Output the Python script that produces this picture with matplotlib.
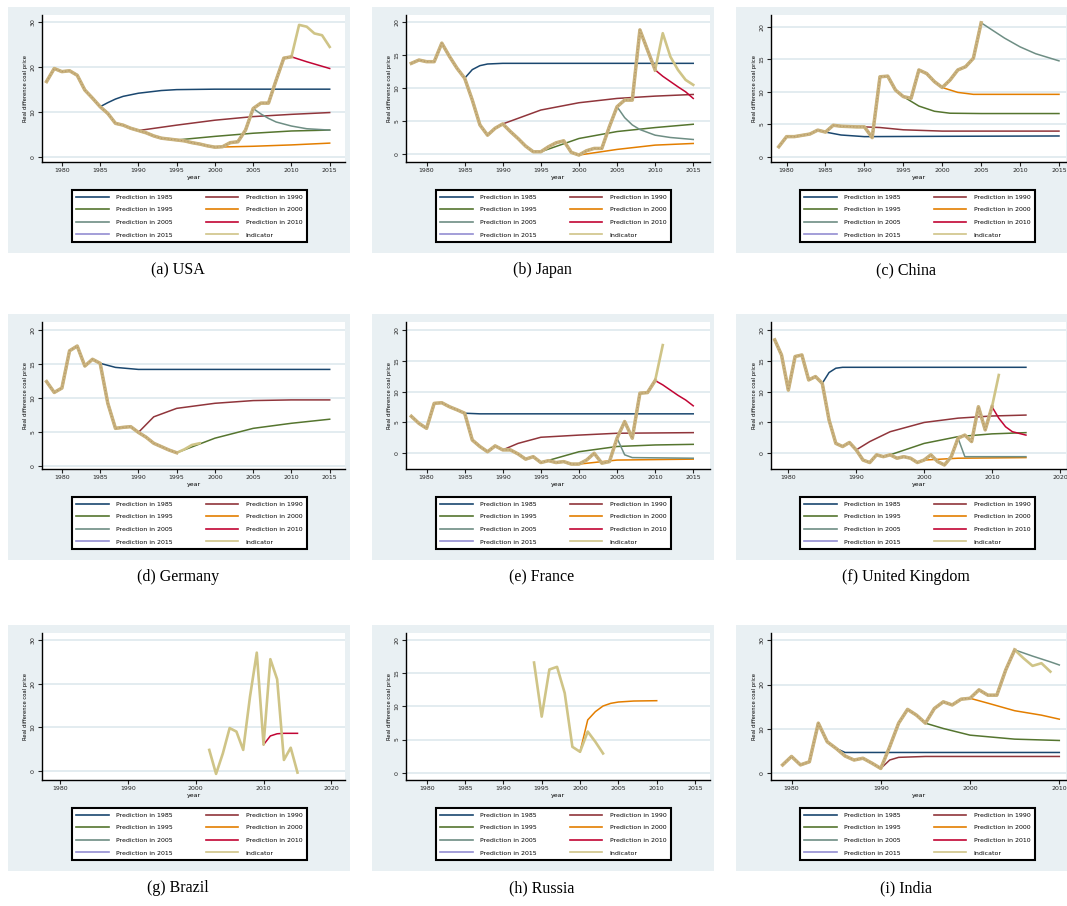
import matplotlib
matplotlib.use("Agg")
import matplotlib.pyplot as plt
from matplotlib.lines import Line2D
from matplotlib.patches import Rectangle
import numpy as np

W, H = 1067, 906

# ---- data (y in axis-tick units) ----
usa_years = list(range(1978, 2016))
usa_ind = [1.67, 1.96, 1.89, 1.91, 1.81, 1.48, 1.30, 1.11, 0.96, 0.74, 0.70, 0.63,
           0.58, 0.53, 0.46, 0.41, 0.39, 0.37, 0.35, 0.31, 0.28, 0.24, 0.21, 0.22,
           0.31, 0.33, 0.59, 1.07, 1.19, 1.19, 1.70, 2.19, 2.22, 2.93, 2.89, 2.74,
           2.70, 2.44]
usa_pred = {
    1985: ([1985, 1986, 1987, 1988, 1990, 1993, 1995, 2000, 2015],
           [1.11, 1.20, 1.28, 1.34, 1.41, 1.47, 1.49, 1.50, 1.50]),
    1990: ([1990, 1995, 2000, 2005, 2010, 2015], [0.58, 0.70, 0.81, 0.89, 0.94, 0.98]),
    1995: ([1995, 2000, 2005, 2010, 2015], [0.37, 0.45, 0.52, 0.57, 0.59]),
    2000: ([2000, 2005, 2010, 2015], [0.21, 0.23, 0.26, 0.30]),
    2005: ([2005, 2006, 2007, 2008, 2010, 2012, 2015],
           [1.07, 0.95, 0.85, 0.77, 0.68, 0.62, 0.59]),
    2010: ([2010, 2012, 2015], [2.22, 2.11, 1.96]),
}

japan_years = list(range(1978, 2016))
japan_ind = [2.74, 2.84, 2.79, 2.79, 3.35, 2.95, 2.59, 2.29, 1.63, 0.88, 0.57, 0.78,
             0.91, 0.68, 0.47, 0.24, 0.07, 0.07, 0.22, 0.34, 0.40, 0.05, -0.03, 0.10,
             0.17, 0.17, 0.83, 1.43, 1.63, 1.63, 3.75, 3.14, 2.54, 3.65, 2.94, 2.54,
             2.24, 2.09]
japan_pred = {
    1985: ([1985, 1986, 1987, 1988, 1990, 2015], [2.29, 2.55, 2.67, 2.72, 2.74, 2.74]),
    1990: ([1990, 1995, 2000, 2005, 2010, 2015], [0.91, 1.33, 1.55, 1.68, 1.75, 1.80]),
    1995: ([1995, 2000, 2005, 2010, 2015], [0.07, 0.47, 0.68, 0.80, 0.90]),
    2000: ([2000, 2005, 2010, 2015], [-0.03, 0.14, 0.27, 0.32]),
    2005: ([2005, 2006, 2007, 2008, 2010, 2012, 2015],
           [1.43, 1.10, 0.88, 0.74, 0.57, 0.50, 0.44]),
    2010: ([2010, 2011, 2012, 2013, 2014, 2015], [2.54, 2.35, 2.19, 2.03, 1.88, 1.68]),
}

china_years = list(range(1979, 2006))
china_ind = [0.31, 0.62, 0.62, 0.66, 0.70, 0.82, 0.76, 0.97, 0.94, 0.93, 0.92, 0.92,
             0.59, 2.46, 2.48, 2.05, 1.85, 1.80, 2.67, 2.56, 2.31, 2.13, 2.36, 2.67,
             2.77, 3.03, 4.12]
china_pred = {
    1985: ([1985, 1987, 1990, 2000, 2015], [0.76, 0.67, 0.62, 0.63, 0.64]),
    1990: ([1990, 1992, 1995, 2000, 2015], [0.92, 0.90, 0.83, 0.79, 0.79]),
    1995: ([1995, 1997, 1999, 2001, 2005, 2015], [1.85, 1.56, 1.40, 1.34, 1.33, 1.33]),
    2000: ([2000, 2002, 2004, 2015], [2.13, 1.98, 1.92, 1.92]),
    2005: ([2005, 2008, 2010, 2012, 2015], [4.12, 3.65, 3.38, 3.17, 2.95]),
}

germany_years = list(range(1978, 1999))
germany_ind = [2.48, 2.16, 2.29, 3.39, 3.53, 2.94, 3.14, 3.02, 1.84, 1.10, 1.13, 1.15,
               0.98, 0.84, 0.66, 0.56, 0.46, 0.38, 0.48, 0.61, 0.66]
germany_pred = {
    1985: ([1985, 1987, 1990, 2015], [3.02, 2.90, 2.84, 2.84]),
    1990: ([1990, 1992, 1995, 2000, 2005, 2010, 2015],
           [0.98, 1.44, 1.69, 1.84, 1.92, 1.94, 1.94]),
    1995: ([1995, 2000, 2005, 2010, 2015], [0.38, 0.81, 1.10, 1.25, 1.37]),
}

france_years = list(range(1978, 2012))
france_ind = [1.20, 0.97, 0.81, 1.62, 1.64, 1.51, 1.41, 1.30, 0.43, 0.22, 0.05, 0.24,
              0.11, 0.11, -0.02, -0.19, -0.11, -0.30, -0.24, -0.30, -0.27, -0.35,
              -0.35, -0.22, 0.00, -0.32, -0.27, 0.49, 1.03, 0.49, 1.95, 1.97, 2.36,
              3.51]
france_pred = {
    1985: ([1985, 1987, 2015], [1.30, 1.28, 1.28]),
    1990: ([1990, 1992, 1995, 2000, 2005, 2015], [0.11, 0.32, 0.52, 0.59, 0.65, 0.67]),
    1995: ([1995, 2000, 2005, 2010, 2015], [-0.30, 0.05, 0.22, 0.27, 0.29]),
    2000: ([2000, 2005, 2015], [-0.35, -0.22, -0.19]),
    2005: ([2005, 2006, 2007, 2015], [0.49, -0.05, -0.14, -0.16]),
    2010: ([2010, 2011, 2012, 2013, 2014, 2015], [2.36, 2.22, 2.05, 1.88, 1.73, 1.54]),
}

uk_years = list(range(1978, 2012))
uk_ind = [3.68, 3.19, 2.05, 3.14, 3.19, 2.38, 2.49, 2.27, 1.08, 0.32, 0.22, 0.35,
          0.11, -0.22, -0.30, -0.05, -0.11, -0.05, -0.16, -0.11, -0.16, -0.30, -0.22,
          -0.05, -0.27, -0.38, -0.11, 0.49, 0.59, 0.38, 1.51, 0.76, 1.51, 2.54]
uk_pred = {
    1985: ([1985, 1986, 1987, 1988, 2015], [2.27, 2.62, 2.76, 2.79, 2.79]),
    1990: ([1990, 1992, 1995, 2000, 2005, 2010, 2015],
           [0.11, 0.38, 0.70, 1.00, 1.14, 1.21, 1.24]),
    1995: ([1995, 2000, 2005, 2010, 2015], [-0.05, 0.32, 0.54, 0.63, 0.67]),
    2000: ([2000, 2005, 2015], [-0.22, -0.16, -0.14]),
    2005: ([2005, 2006, 2015], [0.49, -0.11, -0.11]),
    2010: ([2010, 2011, 2012, 2013, 2015], [1.51, 1.14, 0.86, 0.70, 0.59]),
}

brazil_years = list(range(2002, 2016))
brazil_ind = [0.48, -0.07, 0.40, 0.98, 0.90, 0.48, 1.70, 2.71, 0.60, 2.56, 2.10,
              0.25, 0.53, -0.04]
brazil_pred = {
    2010: ([2010, 2011, 2012, 2013, 2015], [0.60, 0.80, 0.85, 0.86, 0.86]),
}

russia_years = list(range(1994, 2004))
russia_ind = [3.32, 1.69, 3.11, 3.19, 2.40, 0.78, 0.63, 1.24, 0.93, 0.58]
russia_pred = {
    2000: ([2000, 2001, 2002, 2003, 2004, 2005, 2007, 2010],
           [0.63, 1.59, 1.84, 2.01, 2.09, 2.13, 2.16, 2.17]),
}

india_years = list(range(1979, 2010))
india_ind = [0.19, 0.38, 0.19, 0.26, 1.13, 0.71, 0.56, 0.39, 0.30, 0.34, 0.23, 0.11,
             0.60, 1.13, 1.44, 1.31, 1.13, 1.46, 1.61, 1.54, 1.67, 1.69, 1.88, 1.76,
             1.76, 2.33, 2.78, 2.59, 2.42, 2.48, 2.29]
india_pred = {
    1985: ([1985, 1986, 2010], [0.56, 0.47, 0.47]),
    1990: ([1990, 1991, 1992, 1995, 2010], [0.11, 0.30, 0.36, 0.38, 0.38]),
    1995: ([1995, 1997, 2000, 2005, 2010], [1.13, 1.01, 0.86, 0.77, 0.74]),
    2000: ([2000, 2002, 2005, 2008, 2010], [1.69, 1.58, 1.41, 1.31, 1.22]),
    2005: ([2005, 2007, 2009, 2010], [2.78, 2.64, 2.51, 2.44]),
}

captions = ["(a) USA", "(b) Japan", "(c) China", "(d) Germany", "(e) France",
            "(f) United Kingdom", "(g) Brazil", "(h) Russia", "(i) India"]
ticks5 = [1980, 1985, 1990, 1995, 2000, 2005, 2010, 2015]
ticks10 = [1980, 1990, 2000, 2010, 2020]
ticks10i = [1980, 1990, 2000, 2010]
ylab4 = ["0", "10", "20", "30"]
ylab5 = ["0", "5", "10", "15", "20"]

pred_years = [1985, 1990, 1995, 2000, 2005, 2010, 2015]
pred_colors = ["#1a476f", "#90353b", "#55752f", "#e37e00", "#6e8e84", "#c10534",
               "#938dd2"]
ind_color = "#cfc487"

# ---- layout (pixels) ----
BG = "#e9f0f3"
col_x = [8, 372, 736]
row_y = [7, 314, 625]
ax_left = [42, 406, 771]
ax_right = [345, 710, 1066]

panels = [
    (usa_years, usa_ind, usa_pred, ticks5, (1977.4, 2017.0), ylab4, (-0.12, 3.15)),
    (japan_years, japan_ind, japan_pred, ticks5, (1977.3, 2017.2), ylab5, (-0.24, 4.2)),
    (china_years, china_ind, china_pred, ticks5, (1978.0, 2015.9), ylab5, (-0.16, 4.36)),
    (germany_years, germany_ind, germany_pred, ticks5, (1977.4, 2017.0), ylab5, (-0.1, 4.24)),
    (france_years, france_ind, france_pred, ticks5, (1977.3, 2017.2), ylab5, (-0.51, 4.26)),
    (uk_years, uk_ind, uk_pred, ticks10, (1977.45, 2020.9), ylab5, (-0.51, 4.26)),
    (brazil_years, brazil_ind, brazil_pred, ticks10, (1977.35, 2022.0), ylab4, (-0.21, 3.16)),
    (russia_years, russia_ind, russia_pred, ticks5, (1977.3, 2016.95), ylab5, (-0.22, 4.21)),
    (india_years, india_ind, india_pred, ticks10i, (1977.7, 2010.75), ylab4, (-0.15, 3.16)),
]


def frac_rect(x, y, w, h):
    return [x / W, 1 - (y + h) / H, w / W, h / H]


fig = plt.figure(figsize=(W / 100, H / 100), dpi=100)

for i, (yrs, ind, pred, xt, xl, ylabs, yl) in enumerate(panels):
    r, c = divmod(i, 3)
    x0, y0 = col_x[c], row_y[r]
    bg_w = min(342, W - x0)
    fig.add_artist(Rectangle((x0 / W, 1 - (y0 + 246) / H), bg_w / W, 246 / H,
                             transform=fig.transFigure, facecolor=BG,
                             edgecolor="none", zorder=0))

    ax = fig.add_axes(frac_rect(ax_left[c], y0 + 8, ax_right[c] - ax_left[c], 147))
    ax.set_facecolor("white")
    for s in ("top", "right"):
        ax.spines[s].set_visible(False)
    for s in ("left", "bottom"):
        ax.spines[s].set_linewidth(1.0)
    ax.set_xlim(*xl)
    ax.set_ylim(*yl)
    ax.set_xticks(xt)
    ax.set_xticklabels([str(t) for t in xt])
    ax.set_yticks(range(len(ylabs)))
    ax.set_yticklabels(ylabs, rotation=90, va="center")
    ax.tick_params(direction="out", length=3, width=0.8, labelsize=4.5, pad=1.5,
                   colors="#222222")
    ax.yaxis.grid(True, color="#e1eaef", lw=1.3)
    ax.set_axisbelow(True)
    ax.set_xlabel("year", fontsize=4.5, labelpad=1.5)
    ax.set_ylabel("Real difference coal price", fontsize=3.8, labelpad=2)

    for py, pc in zip(pred_years, pred_colors):
        if py in pred:
            px, pv = pred[py]
            ax.plot(px, pv, color=pc, lw=1.1, zorder=3)

    # indicator; the stretch that all the prediction series share looks darker
    yrs_a = np.array(yrs)
    ind_a = np.array(ind)
    ax.plot(yrs_a, ind_a, color=ind_color, lw=1.9, zorder=4,
            solid_joinstyle="round")
    last = max(pred.keys())
    m = yrs_a <= last
    if len(pred) > 1:
        ax.plot(yrs_a[m], ind_a[m], color="#c9b27e", lw=2.5, zorder=4,
                solid_joinstyle="round")
        ax.plot(yrs_a[m], ind_a[m], color="#b0905f", lw=0.8, zorder=5,
                ls=(0, (1.0, 2.0)), alpha=0.8)

    # legend
    lax = fig.add_axes(frac_rect(x0 + 64, y0 + 183, 235, 52))
    lax.axis("off")
    order = [0, 2, 4, 6, 1, 3, 5]
    handles = [Line2D([], [], color=pred_colors[k], lw=1.2) for k in order]
    labels = ["Prediction in %d" % pred_years[k] for k in order]
    handles.append(Line2D([], [], color=ind_color, lw=1.2))
    labels.append("Indicator")
    leg = lax.legend(handles, labels, ncol=2, loc="center", mode="expand",
                     bbox_to_anchor=(0, 0, 1, 1), fontsize=4.5, frameon=True,
                     fancybox=False, edgecolor="black", facecolor="white",
                     framealpha=1.0, borderaxespad=0,
                     handlelength=5.2, handletextpad=1.2, labelspacing=1.15,
                     columnspacing=2.0, borderpad=0.7)
    leg.get_frame().set_linewidth(1.5)

    fig.text((x0 + 170) / W, 1 - (y0 + 263) / H, captions[i], ha="center",
             va="center", fontsize=11.5,
             family=["Liberation Serif", "DejaVu Serif"])

fig.savefig("out.png", dpi=100, facecolor="white")
